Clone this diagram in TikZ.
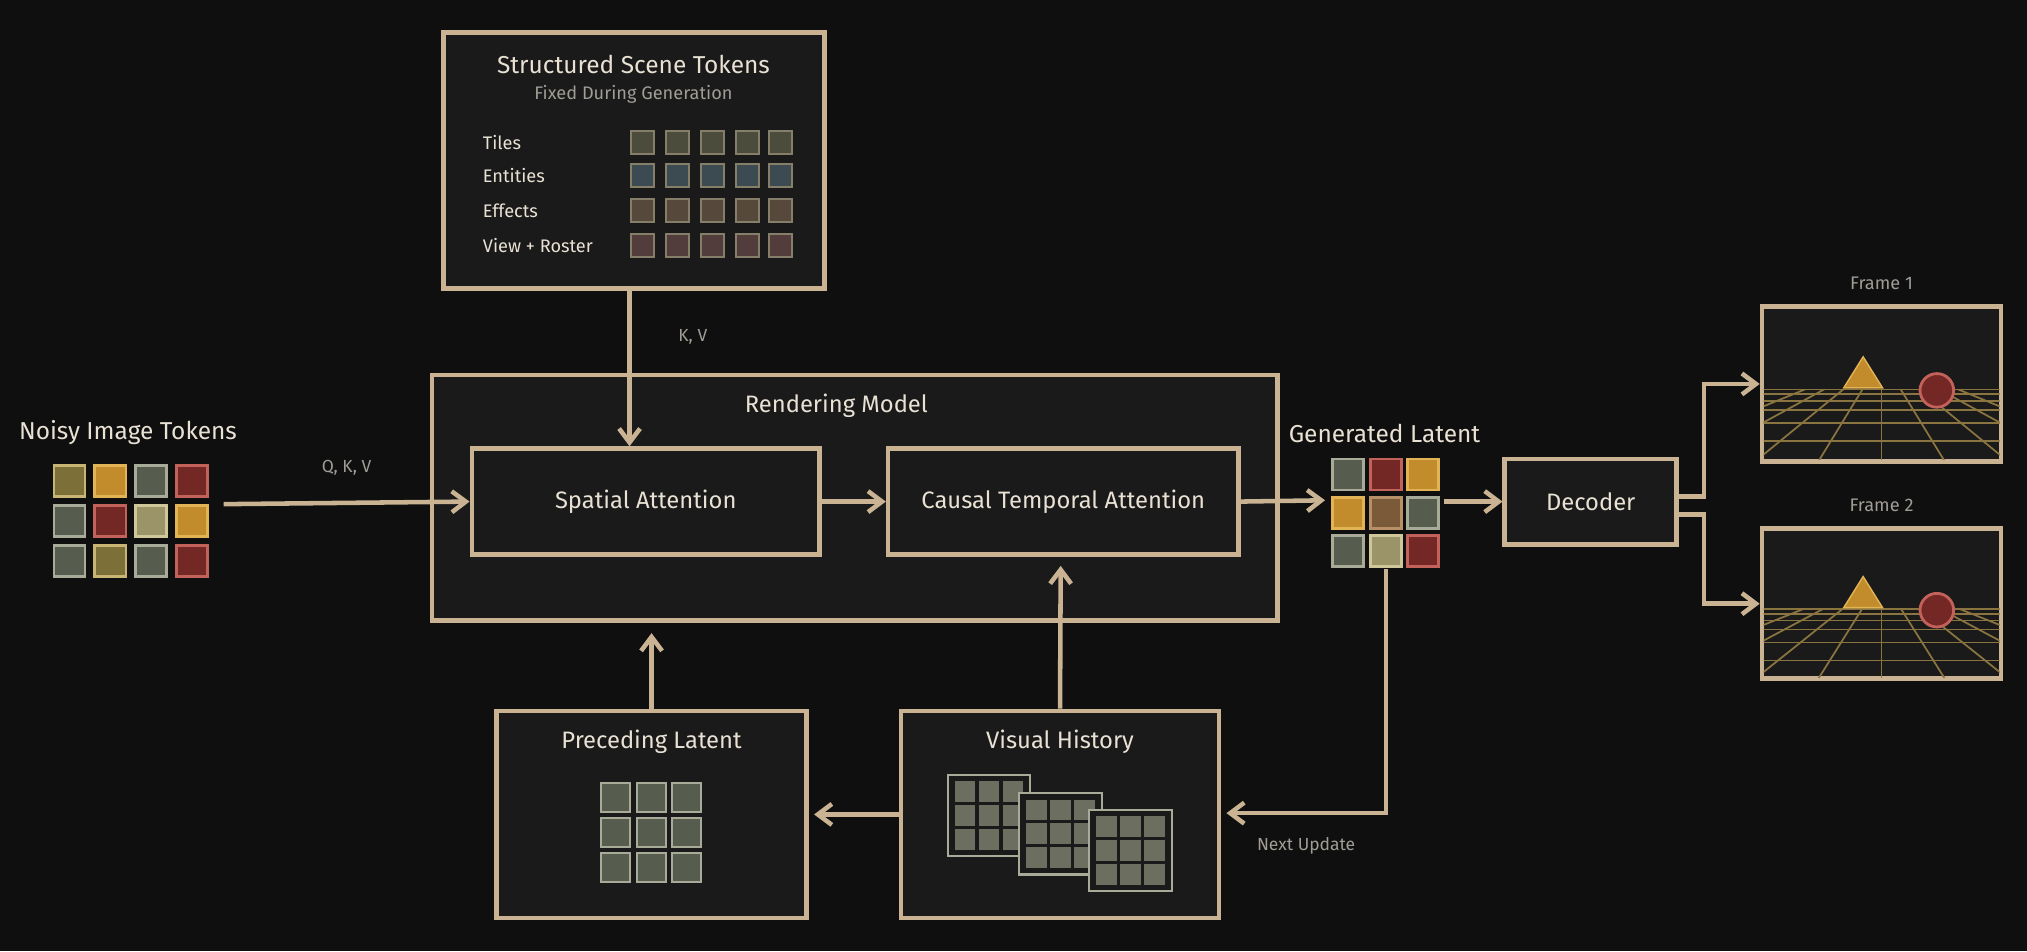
\documentclass[tikz,border=0pt]{standalone}
\usepackage{fontspec}
\setmainfont{Fira Sans}
\usetikzlibrary{positioning,arrows.meta,calc}
\definecolor{bgDark}{HTML}{0F0F0F}
\definecolor{boxFill}{HTML}{1A1A1A}
\definecolor{tanLine}{HTML}{C9B393}
\definecolor{txtMain}{HTML}{E8E1D4}
\definecolor{txtDim}{HTML}{A09C96}
\definecolor{tkOlive}{HTML}{7C6F38}\definecolor{bdOlive}{HTML}{C8B574}
\definecolor{tkOrange}{HTML}{C28C2C}\definecolor{bdOrange}{HTML}{E2B455}
\definecolor{tkGray}{HTML}{565C4E}\definecolor{bdGray}{HTML}{A8AB98}
\definecolor{tkRed}{HTML}{742826}\definecolor{bdRed}{HTML}{C2625A}
\definecolor{tkKhaki}{HTML}{9A9468}\definecolor{bdKhaki}{HTML}{CFC79A}
\definecolor{tkBrown}{HTML}{7A5A38}\definecolor{bdBrown}{HTML}{B89068}
\definecolor{scTile}{HTML}{4C4C3C}\definecolor{scEnt}{HTML}{3C4A52}
\definecolor{scEff}{HTML}{56483A}\definecolor{scView}{HTML}{523C3C}
\definecolor{scBd}{HTML}{857E68}
\definecolor{histSq}{HTML}{6C6E60}
\definecolor{gridLn}{HTML}{8A7440}
\newcommand\px{0.013cm}
\tikzset{
  panel/.style={draw=tanLine, fill=boxFill, line width=1.3pt},
  title/.style={text=txtMain, font=\fontsize{6.8}{8}\selectfont},
  bigtitle/.style={text=txtMain, font=\fontsize{7}{9}\selectfont},
  small/.style={text=txtDim, font=\fontsize{5}{6}\selectfont},
  rowlbl/.style={text=txtMain, font=\fontsize{5.2}{6}\selectfont, anchor=west},
  tok/.style={draw=bd#1, fill=tk#1, line width=0.8pt, minimum size=24*\px, inner sep=0pt},
  stok/.style={draw=scBd, fill=#1, line width=0.6pt, minimum size=18*\px, inner sep=0pt},
  hsq/.style={fill=histSq, minimum size=#1, inner sep=0pt},
  flow/.style={-{Straight Barb[length=4pt,width=6pt]}, draw=tanLine, line width=1.3pt},
}
\begin{document}
\begin{tikzpicture}[x=0.013cm, y=-0.013cm]
\useasboundingbox[fill=bgDark] (0,0) rectangle (1568,736);
%% Scene tokens
\node[panel, minimum width=295*\px, minimum height=198*\px] (scene) at (490.5,124) {};
\node[bigtitle] (scenettl) at (490,50) {Structured Scene Tokens};
\node[small, font=\fontsize{5.2}{6}\selectfont] at (490,73) {Fixed During Generation};
\foreach \r/\lbl/\col [count=\i] in {110/Tiles/scTile, 136/Entities/scEnt, 163/Effects/scEff, 190/View + Roster/scView}{
  \node[rowlbl] at (364,\r) {\lbl};
  \foreach \c [count=\j] in {497,524,551,578,604}
    \node[stok=\col] (s\i\j) at (\c,\r) {};
}
%% Rendering model
\node[panel, minimum width=654*\px, minimum height=190*\px] (render) at (661,385) {};
\node[title] at (647,314) {Rendering Model};
\node[panel, minimum width=269*\px, minimum height=82*\px] (spatial) at (499.5,388) {};
\node[title] at (spatial) {Spatial Attention};
\node[panel, minimum width=271*\px, minimum height=82*\px] (causal) at (822.5,388) {};
\node[title] at (causal) {Causal Temporal Attention};
%% Noisy tokens
\node[bigtitle] at (99,335) {Noisy Image Tokens};
\foreach \row/\y [count=\i] in {{Olive,Orange,Gray,Red}/372, {Gray,Red,Khaki,Orange}/403, {Gray,Olive,Gray,Red}/434}
  \foreach \c [count=\j] in \row
    \node[tok=\c] (n\i\j) at ({22+31.7*\j},\y) {};
%% Generated latent
\node[bigtitle] at (1071,335) {Generated Latent};
\foreach \row/\y [count=\i] in {{Gray,Red,Orange}/367, {Orange,Brown,Gray}/397, {Gray,Khaki,Red}/426}
  \foreach \c [count=\j] in \row
    \node[tok=\c] (g\i\j) at ({1014+29*\j},\y) {};
%% Decoder
\node[panel, minimum width=133*\px, minimum height=66*\px] (dec) at (1230.5,388) {};
\node[title] at (dec) {Decoder};
%% Frames
\foreach \y/\h/\k in {297/120/1, 467/116/2}{
  \node[panel, minimum width=185*\px, minimum height=\h*\px] (frame\k) at (1455.5,\y) {};
  \node[small, font=\fontsize{5.2}{6}\selectfont] at ($(frame\k.north)+(0,-16)$) {Frame \k};
  \begin{scope}
    \clip ($(frame\k.west)+(3,4)$) rectangle ($(frame\k.south east)+(-3,-3)$);
    \foreach \d in {0,4,9,16,26,40,58}
      \draw[gridLn, line width=0.5pt] ($(frame\k.west)+(0,4+\d)$) -- ($(frame\k.east)+(0,4+\d)$);
    \foreach \b in {-4,...,4}
      \draw[gridLn, line width=0.5pt] ($(frame\k.center)+(0,-20)$) -- ($(frame\k.south)+(\b*50,0)$);
  \end{scope}
  \fill[tkOrange, draw=bdOrange, line width=0.4pt] ($(frame\k.west)+(65,3)$) -- ($(frame\k.west)+(80,-21)$) -- ($(frame\k.west)+(95,3)$) -- cycle;
  \node[circle, fill=tkRed, draw=bdRed, line width=0.8pt, minimum size=26*\px, inner sep=0pt] (ball\k) at ($(frame\k.west)+(137,5)$) {};
}
%% Preceding latent
\node[panel, minimum width=240*\px, minimum height=160*\px] (prec) at (504,630) {};
\node[title] at (504,574) {Preceding Latent};
\foreach \y [count=\i] in {617,644,671}
  \foreach \x [count=\j] in {476,504,531}
    \node[draw=bdGray, fill=tkGray, line width=0.6pt, minimum size=22*\px, inner sep=0pt] (p\i\j) at (\x,\y) {};
%% Visual history
\node[panel, minimum width=246*\px, minimum height=160*\px] (hist) at (820,630) {};
\node[title] at (820,574) {Visual History};
\foreach \x/\y [count=\k] in {765/631, 820.5/645, 874.5/658}{
  \node[draw=bdGray, fill=boxFill, line width=0.6pt, minimum width=64*\px, minimum height=63*\px] (hp\k) at (\x,\y) {};
  \foreach \i in {-1,0,1}
    \foreach \j in {-1,0,1}
      \node[hsq=16*\px] at (\x+\j*18.5,\y+\i*18.5) {};
}
%% Connectors
\coordinate (qkvL) at (173,390);
\draw[flow] (qkvL) -- node[small, above=4pt] {Q, K, V} (spatial.west);
\draw[flow] (scene.south -| 487,0) -- node[small, right=10pt, pos=0.3] {K, V} (spatial.north -| 487,0);
\draw[flow] (spatial) -- (causal);
\coordinate (latL) at (1025,387);
\draw[flow] (causal.east) -- (latL);
\coordinate (latR) at (1117,388);
\draw[flow] (latR) -- (dec.west);
\coordinate (up1) at (1318,384);
\coordinate (dn1) at (1318,398);
\draw[flow] ($(dec.east)+(0,-4)$) -- (up1) |- (frame1.west);
\draw[flow] ($(dec.east)+(0,10)$) -- (dn1) |- (frame2.west);
\draw[flow] (prec.north) -- ($(render.south)+(-157,8)$);
\draw[flow] (hist.north) -- ($(causal.south)+(-2,7)$);
\draw[flow] (hist.west) -- ($(prec.east)+(4,0)$);
\coordinate (latB) at (1072,440);
\coordinate (nxt) at (1072,629);
\draw[flow] (latB) -- (nxt) -- node[small, below=3pt, pos=0.5] {Next Update} ($(hist.east)+(4,-1)$);
\end{tikzpicture}
\end{document}
